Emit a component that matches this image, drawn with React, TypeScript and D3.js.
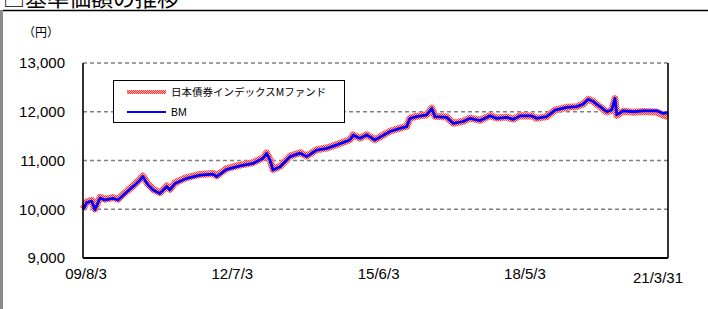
import React from 'react';
import * as d3 from 'd3';

// dates (approximate)
const dates = [
  '2009-08-03', '2009-08-30', '2009-10-05', '2009-10-29', '2009-12-05', '2010-01-10', '2010-03-09', '2010-04-15',
  '2010-06-19', '2010-08-17', '2010-09-22', '2010-10-12', '2010-11-19', '2010-12-26', '2011-02-14', '2011-04-06',
  '2011-04-28', '2011-06-04', '2011-08-28', '2011-12-03', '2012-03-06', '2012-04-02', '2012-06-14', '2012-09-19',
  '2012-12-22', '2013-03-05', '2013-04-01', '2013-04-25', '2013-05-17', '2013-07-07', '2013-09-18', '2013-11-30',
  '2014-01-17', '2014-03-31', '2014-06-12', '2014-08-24', '2014-11-28', '2014-12-20', '2015-02-09', '2015-03-30',
  '2015-05-29', '2015-07-05', '2015-09-16', '2015-11-27', '2016-01-15', '2016-02-08', '2016-03-28', '2016-06-09',
  '2016-07-15', '2016-08-08', '2016-11-01', '2016-12-19', '2017-03-02', '2017-04-20', '2017-07-02', '2017-09-13',
  '2017-10-31', '2018-01-12', '2018-03-01', '2018-04-19', '2018-07-13', '2018-08-18', '2018-10-30', '2018-12-30',
  '2019-03-25', '2019-06-06', '2019-07-24', '2019-08-29', '2019-10-04', '2019-11-22', '2020-01-10', '2020-02-15',
  '2020-03-10', '2020-03-23', '2020-05-10', '2020-07-22', '2020-10-02', '2021-01-08', '2021-02-25', '2021-03-31',
];

// 日本債券インデックスMファンド
const fundValues = [
  10005, 10150, 10185, 10005, 10245, 10205, 10240, 10205, 10375, 10515, 10615, 10685, 10515, 10410, 10340, 10480,
  10410, 10545, 10650, 10715, 10735, 10685, 10835, 10905, 10955, 11055, 11155, 11020, 10815, 10880, 11090, 11160,
  11090, 11220, 11255, 11325, 11425, 11525, 11460, 11530, 11425, 11485, 11600, 11665, 11700, 11870, 11905, 11940,
  12075, 11905, 11890, 11765, 11805, 11870, 11825, 11920, 11870, 11890, 11850, 11920, 11915, 11865, 11900, 12035,
  12090, 12105, 12160, 12255, 12210, 12100, 11995, 12030, 12270, 11925, 12010, 11990, 12005, 11995, 11930, 11900,
];

// BM
const bmValues = [
  9990, 10135, 10170, 9990, 10230, 10190, 10225, 10190, 10360, 10500, 10600, 10670, 10500, 10395, 10325, 10465,
  10395, 10530, 10635, 10700, 10720, 10670, 10820, 10890, 10940, 11045, 11145, 11010, 10805, 10870, 11080, 11150,
  11080, 11215, 11250, 11320, 11420, 11520, 11455, 11525, 11420, 11480, 11595, 11660, 11695, 11865, 11900, 11935,
  12070, 11900, 11885, 11760, 11800, 11865, 11820, 11915, 11865, 11885, 11845, 11915, 11915, 11865, 11900, 12035,
  12090, 12105, 12160, 12255, 12210, 12105, 12000, 12035, 12275, 11935, 12020, 12000, 12020, 12020, 11965, 11980,
];

const yTicks = [9000, 10000, 11000, 12000, 13000];
const xTickDates = ['2009-08-03', '2012-07-03', '2015-06-03', '2018-05-03', '2021-03-31'];
const xTickLabels = ['09/8/3', '12/7/3', '15/6/3', '18/5/3', '21/3/31'];
const seriesNames = ['日本債券インデックスMファンド', 'BM'];

const W = 708;
const H = 309;
const plot = { left: 83, right: 668, top: 63, bottom: 258 };
const latin = '"Liberation Sans", Arial, sans-serif';
const cjk = '"Noto Sans CJK JP", "Liberation Sans", sans-serif';

export default function App() {
  const parse = d3.timeParse('%Y-%m-%d');
  const x = d3.scaleTime()
    .domain([parse(dates[0])!, parse(dates[dates.length - 1])!])
    .range([plot.left, plot.right]);
  const y = d3.scaleLinear().domain([9000, 13000]).range([plot.bottom, plot.top]);

  const line = d3.line<[string, number]>()
    .x(d => x(parse(d[0])!))
    .y(d => y(d[1]));
  const fundPath = line(dates.map((d, i) => [d, fundValues[i]] as [string, number])) || '';
  const bmPath = line(dates.map((d, i) => [d, bmValues[i]] as [string, number])) || '';

  return (
    <svg width={W} height={H} style={{ position: 'absolute', left: 0, top: 0, background: '#fff' }}>
      <defs>
        <pattern id="redDots" width="2" height="2" patternUnits="userSpaceOnUse">
          <rect width="2" height="2" fill="#ffb4b4" />
          <rect width="1" height="1" fill="#ff3030" />
          <rect x="1" y="1" width="1" height="1" fill="#ff3030" />
        </pattern>
      </defs>

      {/* title, cut off at the top like the source */}
      <text x={3} y={6} fontFamily={cjk} fontSize={22} fill="#000">□基準価額の推移</text>

      {/* outer frame */}
      <rect x={0} y={10} width={3} height={H - 10} fill="#8a8a8a" />
      <line x1={3} x2={W} y1={10.5} y2={10.5} stroke="#000" strokeWidth={1.5} />

      {/* unit */}
      <text x={23} y={37} fontFamily={cjk} fontSize={12} fill="#000">（円）</text>

      {/* gridlines */}
      {yTicks.filter(t => t > 9000).map(t => (
        <line key={t} x1={plot.left} x2={plot.right} y1={y(t)} y2={y(t)}
          stroke="#808080" strokeWidth={1.6} strokeDasharray="4,3" />
      ))}

      {/* y labels */}
      {yTicks.map(t => (
        <text key={t} x={65} y={y(t)} dy="0.36em" textAnchor="end"
          fontFamily={latin} fontSize={15} fill="#000">{d3.format(',')(t)}</text>
      ))}

      {/* x labels */}
      {xTickDates.map((d, i) => {
        const last = i === xTickDates.length - 1;
        return (
          <text key={d} x={x(parse(d)!) + (last ? -10 : 3)} y={last ? 283 : 279}
            textAnchor="middle" fontFamily={latin} fontSize={15} fill="#000">{xTickLabels[i]}</text>
        );
      })}

      {/* series */}
      <path d={fundPath} fill="none" stroke="url(#redDots)" strokeWidth={7} strokeLinejoin="round" />
      <path d={bmPath} fill="none" stroke="#0000ff" strokeWidth={2.8} strokeLinejoin="round" />

      {/* axes / plot border */}
      <line x1={plot.left} x2={plot.left} y1={plot.top} y2={plot.bottom} stroke="#000" strokeWidth={1.6} />
      <line x1={plot.right} x2={plot.right} y1={plot.top} y2={plot.bottom} stroke="#000" strokeWidth={1.6} />
      <line x1={plot.left} x2={plot.right} y1={plot.bottom} y2={plot.bottom} stroke="#000" strokeWidth={1.8} />

      {/* legend */}
      <g transform="translate(113,80)">
        <rect x={0.5} y={0.5} width={231} height={42} fill="#fff" stroke="#000" strokeWidth={1} />
        <line x1={14} x2={53} y1={12} y2={12} stroke="url(#redDots)" strokeWidth={4} />
        <text x={58} y={12} dy="0.36em" fontFamily={cjk} fontSize={10.5} fill="#000">{seriesNames[0]}</text>
        <line x1={14} x2={53} y1={32} y2={32} stroke="#0000ff" strokeWidth={2} />
        <text x={58} y={32} dy="0.36em" fontFamily={latin} fontSize={10.5} fill="#000">{seriesNames[1]}</text>
      </g>
    </svg>
  );
}
